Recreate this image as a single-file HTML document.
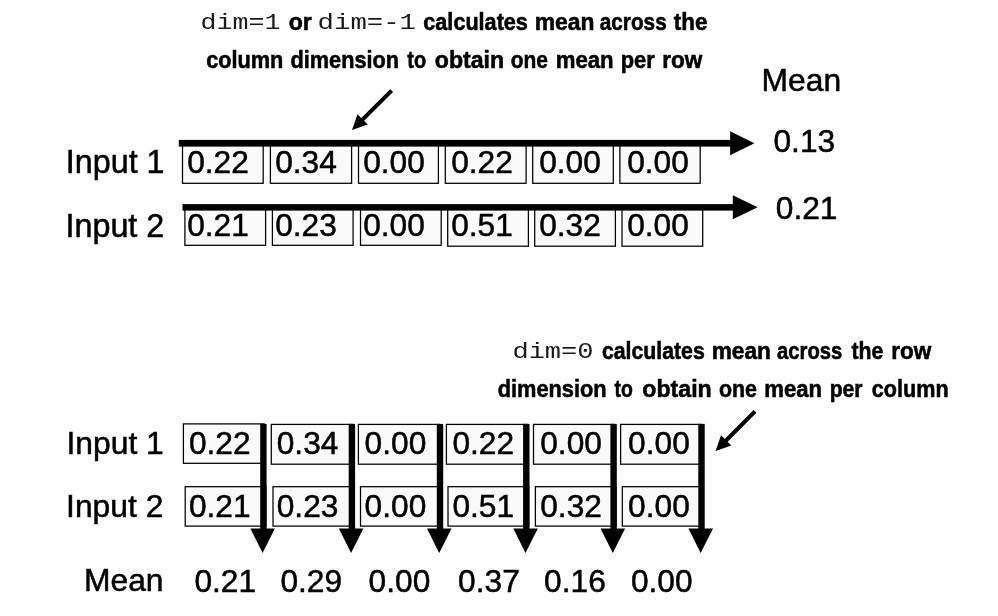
<!DOCTYPE html>
<html><head><meta charset="utf-8"><title>Mean across dimensions</title>
<style>
html,body{margin:0;padding:0;background:#fefefe;}
body{width:998px;height:616px;overflow:hidden;}
svg{display:block;font-family:"Liberation Sans",Arial,Helvetica,sans-serif;fill:#000;}
text{stroke:#000;stroke-width:0.5px;}
</style></head><body>
<svg width="998" height="616" viewBox="0 0 998 616">
<rect x="0" y="0" width="998" height="616" fill="#fefefe"/>
<rect x="182.50" y="143.90" width="80.7" height="39.4" fill="#fafafa" stroke="#000" stroke-width="1.25"/>
<text x="187.20" y="173.40" font-size="31.7" text-anchor="start" >0.22</text>
<rect x="270.40" y="143.90" width="81.2" height="39.4" fill="#fafafa" stroke="#000" stroke-width="1.25"/>
<text x="275.20" y="173.40" font-size="31.7" text-anchor="start" >0.34</text>
<rect x="358.50" y="143.90" width="79.9" height="39.4" fill="#fafafa" stroke="#000" stroke-width="1.25"/>
<text x="363.20" y="173.40" font-size="31.7" text-anchor="start" >0.00</text>
<rect x="445.30" y="143.90" width="80.8" height="39.4" fill="#fafafa" stroke="#000" stroke-width="1.25"/>
<text x="451.20" y="173.40" font-size="31.7" text-anchor="start" >0.22</text>
<rect x="532.70" y="143.90" width="80.6" height="39.4" fill="#fafafa" stroke="#000" stroke-width="1.25"/>
<text x="539.20" y="173.40" font-size="31.7" text-anchor="start" >0.00</text>
<rect x="619.90" y="143.90" width="80.3" height="39.4" fill="#fafafa" stroke="#000" stroke-width="1.25"/>
<text x="627.20" y="173.40" font-size="31.7" text-anchor="start" >0.00</text>
<rect x="184.90" y="205.90" width="80.7" height="39.4" fill="#fafafa" stroke="#000" stroke-width="1.25"/>
<text x="187.20" y="236.30" font-size="31.7" text-anchor="start" >0.21</text>
<rect x="272.40" y="205.90" width="80.7" height="39.4" fill="#fafafa" stroke="#000" stroke-width="1.25"/>
<text x="275.20" y="236.30" font-size="31.7" text-anchor="start" >0.23</text>
<rect x="360.50" y="205.90" width="80.7" height="39.4" fill="#fafafa" stroke="#000" stroke-width="1.25"/>
<text x="363.20" y="236.30" font-size="31.7" text-anchor="start" >0.00</text>
<rect x="447.70" y="206.80" width="80.7" height="39.4" fill="#fafafa" stroke="#000" stroke-width="1.25"/>
<text x="451.20" y="236.30" font-size="31.7" text-anchor="start" >0.51</text>
<rect x="534.70" y="206.80" width="80.7" height="39.4" fill="#fafafa" stroke="#000" stroke-width="1.25"/>
<text x="539.20" y="236.30" font-size="31.7" text-anchor="start" >0.32</text>
<rect x="622.00" y="206.80" width="80.7" height="39.4" fill="#fafafa" stroke="#000" stroke-width="1.25"/>
<text x="627.20" y="236.30" font-size="31.7" text-anchor="start" >0.00</text>
<rect x="178.8" y="139.9" width="553" height="6.7" fill="#000"/>
<polygon points="730.1,131.2 754.4,143.2 730.1,155.2" fill="#000"/>
<rect x="182.5" y="204.1" width="552" height="6.5" fill="#000"/>
<polygon points="732.8,195.2 757.6,207.2 732.8,219.2" fill="#000"/>
<text x="65.80" y="172.80" font-size="32.3" text-anchor="start" >Input 1</text>
<text x="65.50" y="236.80" font-size="32.3" text-anchor="start" >Input 2</text>
<text x="761.60" y="91.20" font-size="31.8" text-anchor="start" >Mean</text>
<text x="773.50" y="152.20" font-size="31.7" text-anchor="start" >0.13</text>
<text x="775.80" y="218.50" font-size="31.7" text-anchor="start" >0.21</text>
<rect x="183.40" y="423.90" width="80.7" height="39.4" fill="#fafafa" stroke="#000" stroke-width="1.25"/>
<text x="188.90" y="454.40" font-size="31.7" text-anchor="start" >0.22</text>
<rect x="271.30" y="424.40" width="80.7" height="39.8" fill="#fafafa" stroke="#000" stroke-width="1.25"/>
<text x="276.74" y="454.40" font-size="31.7" text-anchor="start" >0.34</text>
<rect x="358.40" y="424.40" width="80.7" height="39.8" fill="#fafafa" stroke="#000" stroke-width="1.25"/>
<text x="364.58" y="454.40" font-size="31.7" text-anchor="start" >0.00</text>
<rect x="446.40" y="424.40" width="80.7" height="39.8" fill="#fafafa" stroke="#000" stroke-width="1.25"/>
<text x="452.42" y="454.40" font-size="31.7" text-anchor="start" >0.22</text>
<rect x="533.50" y="424.40" width="80.7" height="39.8" fill="#fafafa" stroke="#000" stroke-width="1.25"/>
<text x="540.26" y="454.40" font-size="31.7" text-anchor="start" >0.00</text>
<rect x="620.60" y="424.40" width="80.7" height="39.8" fill="#fafafa" stroke="#000" stroke-width="1.25"/>
<text x="628.10" y="454.40" font-size="31.7" text-anchor="start" >0.00</text>
<rect x="185.20" y="486.70" width="80.7" height="39.4" fill="#fafafa" stroke="#000" stroke-width="1.25"/>
<text x="188.90" y="517.40" font-size="31.7" text-anchor="start" >0.21</text>
<rect x="273.00" y="486.70" width="80.7" height="39.4" fill="#fafafa" stroke="#000" stroke-width="1.25"/>
<text x="276.74" y="517.40" font-size="31.7" text-anchor="start" >0.23</text>
<rect x="360.50" y="486.70" width="80.7" height="39.4" fill="#fafafa" stroke="#000" stroke-width="1.25"/>
<text x="364.58" y="517.40" font-size="31.7" text-anchor="start" >0.00</text>
<rect x="448.00" y="486.70" width="80.7" height="39.4" fill="#fafafa" stroke="#000" stroke-width="1.25"/>
<text x="452.42" y="517.40" font-size="31.7" text-anchor="start" >0.51</text>
<rect x="535.40" y="486.70" width="80.7" height="39.4" fill="#fafafa" stroke="#000" stroke-width="1.25"/>
<text x="540.26" y="517.40" font-size="31.7" text-anchor="start" >0.32</text>
<rect x="622.30" y="486.70" width="80.7" height="39.4" fill="#fafafa" stroke="#000" stroke-width="1.25"/>
<text x="628.10" y="517.40" font-size="31.7" text-anchor="start" >0.00</text>
<rect x="260.20" y="423.9" width="6.4" height="106" fill="#000"/>
<polygon points="250.40,528.6 274.90,528.6 262.60,553" fill="#000"/>
<rect x="348.70" y="423.9" width="6.4" height="106" fill="#000"/>
<polygon points="338.90,528.6 363.40,528.6 351.10,553" fill="#000"/>
<rect x="436.80" y="423.9" width="6.4" height="106" fill="#000"/>
<polygon points="427.00,528.6 451.50,528.6 439.20,553" fill="#000"/>
<rect x="523.10" y="423.9" width="6.4" height="106" fill="#000"/>
<polygon points="513.30,528.6 537.80,528.6 525.50,553" fill="#000"/>
<rect x="610.40" y="423.9" width="6.4" height="106" fill="#000"/>
<polygon points="600.60,528.6 625.10,528.6 612.80,553" fill="#000"/>
<rect x="698.30" y="423.9" width="6.4" height="106" fill="#000"/>
<polygon points="688.50,528.6 713.00,528.6 700.70,553" fill="#000"/>
<text x="66.50" y="454.00" font-size="31.8" text-anchor="start" >Input 1</text>
<text x="66.10" y="516.90" font-size="31.8" text-anchor="start" >Input 2</text>
<text x="84.00" y="591.00" font-size="31.8" text-anchor="start" >Mean</text>
<text x="194.40" y="591.80" font-size="31.7" text-anchor="start" >0.21</text>
<text x="280.40" y="591.80" font-size="31.7" text-anchor="start" >0.29</text>
<text x="368.60" y="591.80" font-size="31.7" text-anchor="start" >0.00</text>
<text x="458.10" y="591.80" font-size="31.7" text-anchor="start" >0.37</text>
<text x="544.10" y="591.80" font-size="31.7" text-anchor="start" >0.16</text>
<text x="630.90" y="591.80" font-size="31.7" text-anchor="start" >0.00</text>
<text x="200.46" y="29.40" font-size="22.5" font-family="Liberation Mono, monospace" style="stroke:none" fill="#1a1a1a" textLength="80.0" lengthAdjust="spacingAndGlyphs">dim=1</text>
<text x="288.71" y="29.80" font-size="24" font-weight="bold" style="stroke-width:0.55px" textLength="23.11" lengthAdjust="spacingAndGlyphs">or</text>
<text x="317.62" y="29.40" font-size="22.5" font-family="Liberation Mono, monospace" style="stroke:none" fill="#1a1a1a" textLength="98.32" lengthAdjust="spacingAndGlyphs">dim=-1</text>
<text x="423.34" y="29.80" font-size="24" font-weight="bold" style="stroke-width:0.55px" textLength="104.55" lengthAdjust="spacingAndGlyphs">calculates</text>
<text x="534.74" y="29.80" font-size="24" font-weight="bold" style="stroke-width:0.55px" textLength="59.68" lengthAdjust="spacingAndGlyphs">mean</text>
<text x="599.81" y="29.80" font-size="24" font-weight="bold" style="stroke-width:0.55px" textLength="66.86" lengthAdjust="spacingAndGlyphs">across</text>
<text x="673.73" y="29.80" font-size="24" font-weight="bold" style="stroke-width:0.55px" textLength="33.71" lengthAdjust="spacingAndGlyphs">the</text>
<text x="206.16" y="68.20" font-size="24" font-weight="bold" style="stroke-width:0.55px" textLength="77.19" lengthAdjust="spacingAndGlyphs">column</text>
<text x="290.54" y="68.20" font-size="24" font-weight="bold" style="stroke-width:0.55px" textLength="108.42" lengthAdjust="spacingAndGlyphs">dimension</text>
<text x="407.26" y="68.20" font-size="24" font-weight="bold" style="stroke-width:0.55px" textLength="18.85" lengthAdjust="spacingAndGlyphs">to</text>
<text x="434.79" y="68.20" font-size="24" font-weight="bold" style="stroke-width:0.55px" textLength="69.36" lengthAdjust="spacingAndGlyphs">obtain</text>
<text x="510.66" y="68.20" font-size="24" font-weight="bold" style="stroke-width:0.55px" textLength="37.27" lengthAdjust="spacingAndGlyphs">one</text>
<text x="555.77" y="68.20" font-size="24" font-weight="bold" style="stroke-width:0.55px" textLength="57.9" lengthAdjust="spacingAndGlyphs">mean</text>
<text x="620.76" y="68.20" font-size="24" font-weight="bold" style="stroke-width:0.55px" textLength="33.99" lengthAdjust="spacingAndGlyphs">per</text>
<text x="662.32" y="68.20" font-size="24" font-weight="bold" style="stroke-width:0.55px" textLength="40.09" lengthAdjust="spacingAndGlyphs">row</text>
<text x="512.43" y="358.30" font-size="22.5" font-family="Liberation Mono, monospace" style="stroke:none" fill="#1a1a1a" textLength="81.12" lengthAdjust="spacingAndGlyphs">dim=0</text>
<text x="601.91" y="358.60" font-size="24" font-weight="bold" style="stroke-width:0.55px" textLength="102.85" lengthAdjust="spacingAndGlyphs">calculates</text>
<text x="711.76" y="358.60" font-size="24" font-weight="bold" style="stroke-width:0.55px" textLength="59.13" lengthAdjust="spacingAndGlyphs">mean</text>
<text x="777.11" y="358.60" font-size="24" font-weight="bold" style="stroke-width:0.55px" textLength="65.13" lengthAdjust="spacingAndGlyphs">across</text>
<text x="851.55" y="358.60" font-size="24" font-weight="bold" style="stroke-width:0.55px" textLength="31.84" lengthAdjust="spacingAndGlyphs">the</text>
<text x="891.17" y="358.60" font-size="24" font-weight="bold" style="stroke-width:0.55px" textLength="40.04" lengthAdjust="spacingAndGlyphs">row</text>
<text x="497.71" y="397.00" font-size="24" font-weight="bold" style="stroke-width:0.55px" textLength="108.97" lengthAdjust="spacingAndGlyphs">dimension</text>
<text x="614.56" y="397.00" font-size="24" font-weight="bold" style="stroke-width:0.55px" textLength="18.33" lengthAdjust="spacingAndGlyphs">to</text>
<text x="642.29" y="397.00" font-size="24" font-weight="bold" style="stroke-width:0.55px" textLength="69.43" lengthAdjust="spacingAndGlyphs">obtain</text>
<text x="719.03" y="397.00" font-size="24" font-weight="bold" style="stroke-width:0.55px" textLength="37.96" lengthAdjust="spacingAndGlyphs">one</text>
<text x="764.33" y="397.00" font-size="24" font-weight="bold" style="stroke-width:0.55px" textLength="57.8" lengthAdjust="spacingAndGlyphs">mean</text>
<text x="829.63" y="397.00" font-size="24" font-weight="bold" style="stroke-width:0.55px" textLength="32.81" lengthAdjust="spacingAndGlyphs">per</text>
<text x="871.86" y="397.00" font-size="24" font-weight="bold" style="stroke-width:0.55px" textLength="76.71" lengthAdjust="spacingAndGlyphs">column</text>
<line x1="391.60" y1="90.60" x2="361.22" y2="120.83" stroke="#000" stroke-width="4.1"/><polygon points="352.00,130.00 357.52,114.28 367.75,124.56" fill="#000"/>
<line x1="755.00" y1="411.40" x2="724.77" y2="441.78" stroke="#000" stroke-width="4.1"/><polygon points="715.60,451.00 721.04,435.25 731.32,445.48" fill="#000"/>
</svg>
</body></html>
